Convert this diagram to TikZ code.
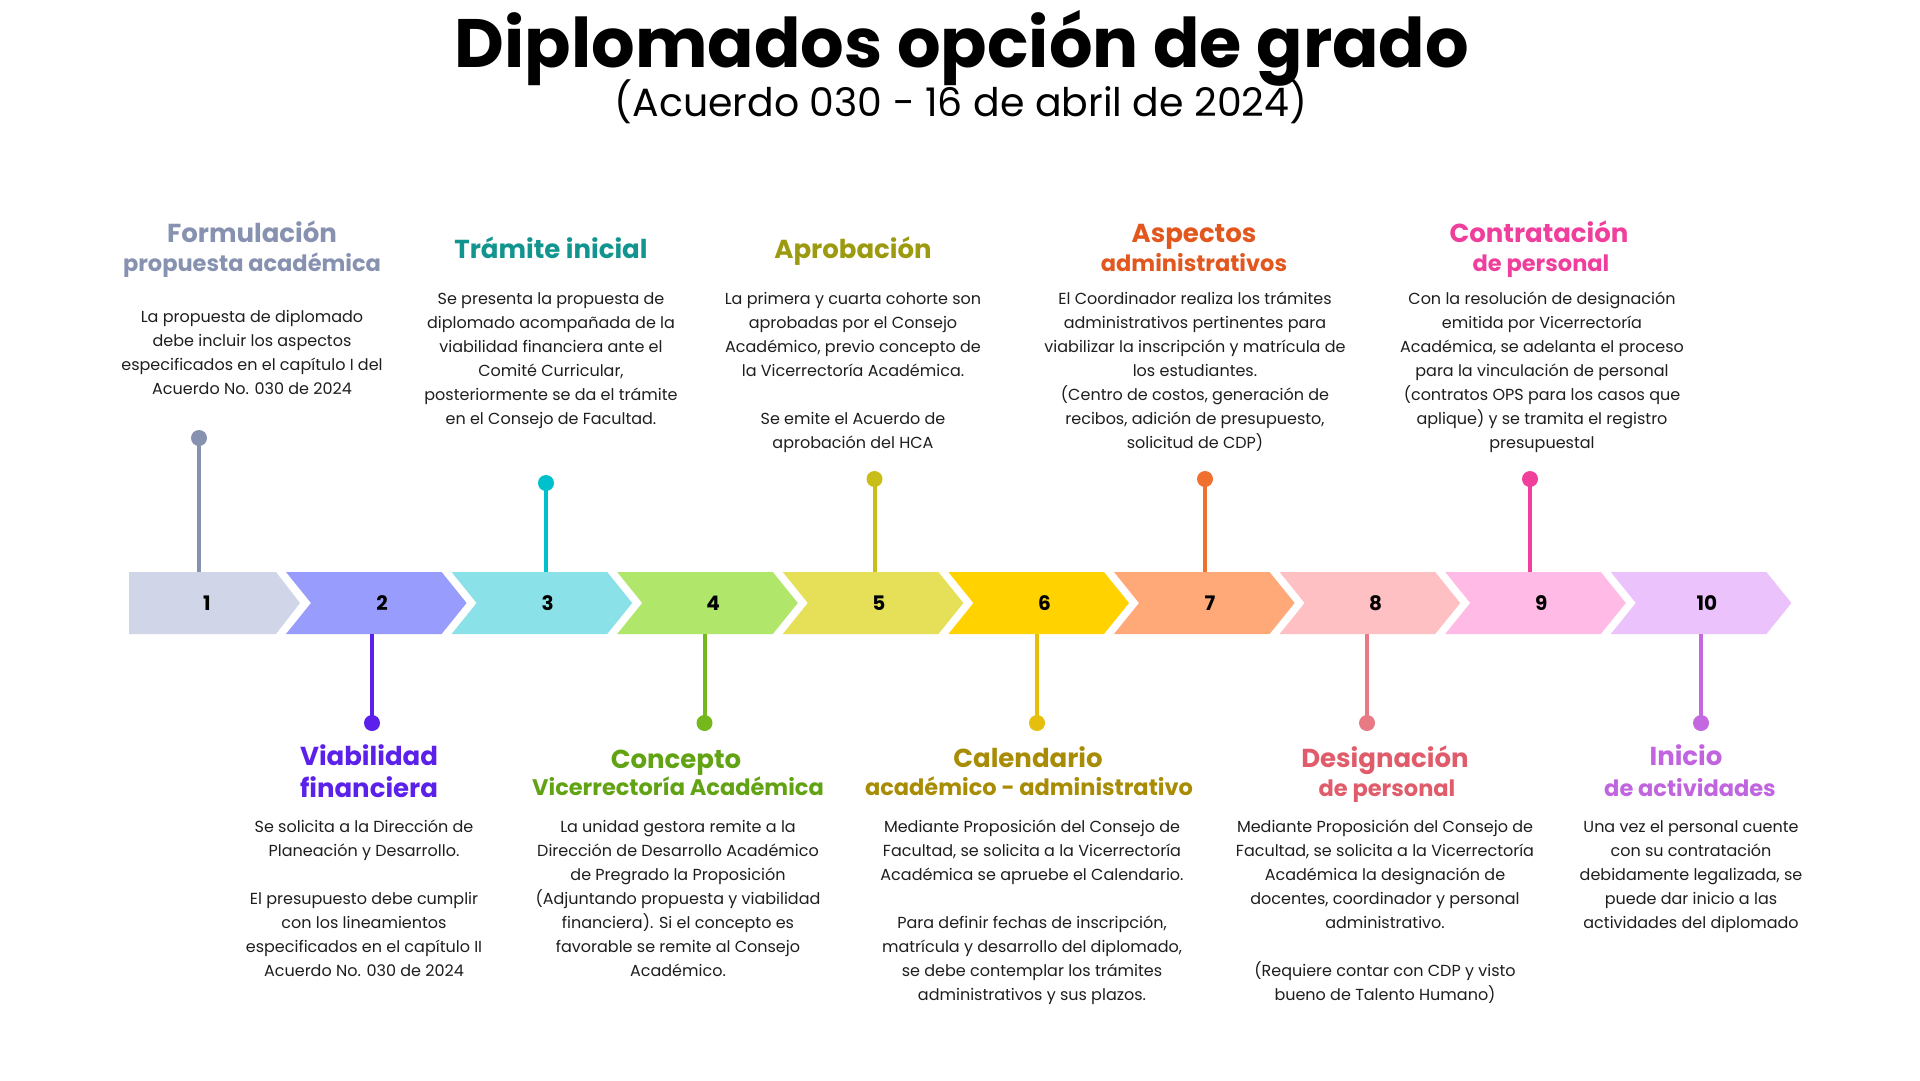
\documentclass[tikz,border=0pt]{standalone}
\usepackage{fontspec}
\setmainfont{Poppins}
\definecolor{txt}{HTML}{1E1E1E}
\definecolor{box1}{HTML}{D0D6E8}
\definecolor{box2}{HTML}{989CFC}
\definecolor{box3}{HTML}{8AE2E8}
\definecolor{box4}{HTML}{B0E66A}
\definecolor{box5}{HTML}{E6E058}
\definecolor{box6}{HTML}{FFD200}
\definecolor{box7}{HTML}{FFA878}
\definecolor{box8}{HTML}{FFC0C4}
\definecolor{box9}{HTML}{FFBAE6}
\definecolor{box10}{HTML}{ECC2FC}
\definecolor{hd1}{HTML}{8791B0}
\definecolor{hd2}{HTML}{5B21EB}
\definecolor{hd3}{HTML}{12958F}
\definecolor{hd4}{HTML}{62A314}
\definecolor{hd5}{HTML}{9C9A0E}
\definecolor{hd6}{HTML}{A88C04}
\definecolor{hd7}{HTML}{E2571E}
\definecolor{hd8}{HTML}{E05C6A}
\definecolor{hd9}{HTML}{F03E9C}
\definecolor{hd10}{HTML}{C064E0}
\definecolor{dt1}{HTML}{8791B0}
\definecolor{dt2}{HTML}{5B21EB}
\definecolor{dt3}{HTML}{00C0CC}
\definecolor{dt4}{HTML}{74B81C}
\definecolor{dt5}{HTML}{C9BD17}
\definecolor{dt6}{HTML}{E6BE0C}
\definecolor{dt7}{HTML}{F07030}
\definecolor{dt8}{HTML}{E87A84}
\definecolor{dt9}{HTML}{F0409C}
\definecolor{dt10}{HTML}{C468E2}
\begin{document}
\begin{tikzpicture}[x=1pt,y=-1pt,line join=round,line cap=round]
	\tikzset{
		body/.style={font=\fontsize{16}{24}\selectfont,align=center,anchor=base,inner sep=0pt,text=txt},
		head/.style={font=\bfseries\fontsize{26}{30}\selectfont,anchor=base,inner sep=0pt},
		sub/.style={font=\bfseries\fontsize{22.5}{28}\selectfont,anchor=base,inner sep=0pt},
		num/.style={font=\bfseries\fontsize{20}{24}\selectfont,minimum height=62pt,inner sep=0pt,text=black},
		dot/.style={circle,minimum size=16pt,inner sep=0pt},
		stem/.style={line width=4pt,line cap=butt}
	}
	\useasboundingbox (0,0) rectangle (1920,1080);
	\fill[white] (0,0) rectangle (1920,1080);
	\node[font=\bfseries\fontsize{68.5}{76}\selectfont] (title) at (962,48) {Diplomados opción de grado};
	\node[font=\fontsize{39.4}{44}\selectfont] (subtitle) at (961,102) {(Acuerdo 030 - 16 de abril de 2024)};
	% chevrons
	\fill[box1] (129,572) -- (276,572) -- (300,603) -- (276,634) -- (129,634) -- cycle;
	\node[num] (b1) at (207,603) {1};
	\foreach \n in {2,...,10}{
		\pgfmathsetmacro\L{286+165.6*(\n-2)}
		\fill[box\n] (\L,572) -- ++(155.6,0) -- ++(25,31) -- ++(-25,31) -- ++(-155.6,0) -- ++(25,-31) -- cycle;
		\node[num] (b\n) at (\L+96,603) {\n};
	}
	% stems
	\foreach \n/\x/\y in {1/199/438,3/546/483,5/874.5/479,7/1205/479,9/1530/479}{
		\node[dot,fill=dt\n] (d\n) at (\x,\y) {};
		\draw[stem,dt\n] (d\n.center) -- (d\n |- b\n.north);
	}
	\foreach \n/\x/\y in {2/372/723,4/704.5/723,6/1037/723,8/1367/723,10/1701/723}{
		\node[dot,fill=dt\n] (d\n) at (\x,\y) {};
		\draw[stem,dt\n] (d\n.center) -- (d\n |- b\n.south);
	}
	% top texts
	\node[head,hd1] (h1) at (252,242) {Formulación};
	\node[sub,hd1] (s1) at (252,271) {propuesta académica};
	\node[body] (t1) at (252,394) {La propuesta de diplomado\\debe incluir los aspectos\\especificados en el capítulo I del\\Acuerdo No. 030 de 2024};
	\node[head,hd3] (h3) at (551,258) {Trámite inicial};
	\node[body] (t3) at (551,424) {Se presenta la propuesta de\\diplomado acompañada de la\\viabilidad financiera ante el\\Comité Curricular,\\posteriormente se da el trámite\\en el Consejo de Facultad.};
	\node[head,hd5] (h5) at (853,258) {Aprobación};
	\node[body] (t5) at (853,448) {La primera y cuarta cohorte son\\aprobadas por el Consejo\\Académico, previo concepto de\\la Vicerrectoría Académica.\\[24pt]Se emite el Acuerdo de\\aprobación del HCA};
	\node[head,hd7] (h7) at (1194,242) {Aspectos};
	\node[sub,hd7] (s7) at (1194,271) {administrativos};
	\node[body] (t7) at (1195,448) {El Coordinador realiza los trámites\\administrativos pertinentes para\\viabilizar la inscripción y matrícula de\\los estudiantes.\\(Centro de costos, generación de\\recibos, adición de presupuesto,\\solicitud de CDP)};
	\node[head,hd9] (h9) at (1539,242) {Contratación};
	\node[sub,hd9] (s9) at (1541,271) {de personal};
	\node[body] (t9) at (1542,448) {Con la resolución de designación\\emitida por Vicerrectoría\\Académica, se adelanta el proceso\\para la vinculación de personal\\(contratos OPS para los casos que\\aplique) y se tramita el registro\\presupuestal};
	% bottom texts
	\node[head,hd2] (h2) at (369,765) {Viabilidad};
	\node[head,hd2] (s2) at (369,797) {financiera};
	\node[body] (t2) at (364,976) {Se solicita a la Dirección de\\Planeación y Desarrollo.\\[24pt]El presupuesto debe cumplir\\con los lineamientos\\especificados en el capítulo II\\Acuerdo No. 030 de 2024};
	\node[head,hd4] (h4) at (676,768) {Concepto};
	\node[sub,hd4] (s4) at (678,795) {Vicerrectoría Académica};
	\node[body] (t4) at (678,976) {La unidad gestora remite a la\\Dirección de Desarrollo Académico\\de Pregrado la Proposición\\(Adjuntando propuesta y viabilidad\\financiera). Si el concepto es\\favorable se remite al Consejo\\Académico.};
	\node[head,hd6] (h6) at (1028,767) {Calendario};
	\node[sub,hd6] (s6) at (1029,795) {académico - administrativo};
	\node[body] (t6) at (1032,1000) {Mediante Proposición del Consejo de\\Facultad, se solicita a la Vicerrectoría\\Académica se apruebe el Calendario.\\[24pt]Para definir fechas de inscripción,\\matrícula y desarrollo del diplomado,\\se debe contemplar los trámites\\administrativos y sus plazos.};
	\node[head,hd8] (h8) at (1385,767) {Designación};
	\node[sub,hd8] (s8) at (1387,796) {de personal};
	\node[body] (t8) at (1385,1000) {Mediante Proposición del Consejo de\\Facultad, se solicita a la Vicerrectoría\\Académica la designación de\\docentes, coordinador y personal\\administrativo.\\[24pt](Requiere contar con CDP y visto\\bueno de Talento Humano)};
	\node[head,hd10] (h10) at (1686,765) {Inicio};
	\node[sub,hd10] (s10) at (1690,796) {de actividades};
	\node[body] (t10) at (1691,928) {Una vez el personal cuente\\con su contratación\\debidamente legalizada, se\\puede dar inicio a las\\actividades del diplomado};
\end{tikzpicture}
\end{document}
